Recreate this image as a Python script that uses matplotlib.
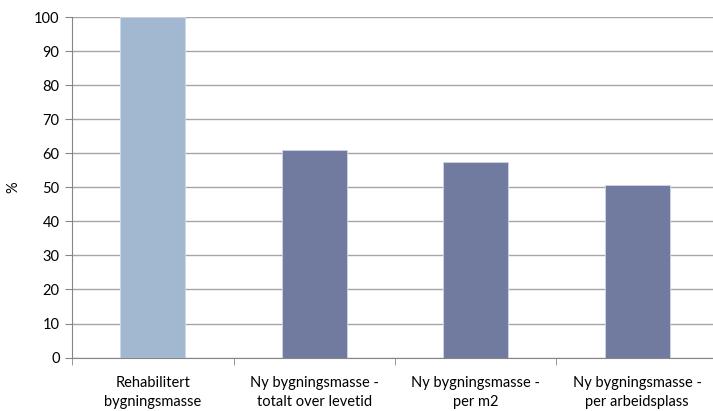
import matplotlib
matplotlib.use("Agg")
import matplotlib.pyplot as plt
import numpy as np

plt.rcParams['font.family'] = ['Lato', 'DejaVu Sans']

# data
kategorier = ["Rehabilitert\nbygningsmasse",
              "Ny bygningsmasse -\ntotalt over levetid",
              "Ny bygningsmasse -\nper m2",
              "Ny bygningsmasse -\nper arbeidsplass"]
verdier = [100, 60.9, 57.5, 50.7]
farger = ["#A2B8D0", "#717BA0", "#717BA0", "#717BA0"]
yticks = list(range(0, 101, 10))

fig = plt.figure(figsize=(7.13, 4.11), dpi=100)
ax = fig.add_axes([0.101, 0.130, 0.906, 0.8285])

x = np.arange(len(kategorier))
ax.bar(x, verdier, width=0.4, color=farger, edgecolor="#D0D6E4", linewidth=0.6, zorder=3)

ax.set_xlim(-0.5, len(kategorier) - 0.5)
ax.set_ylim(0, 100)
ax.set_yticks(yticks)
ax.yaxis.grid(True, color="#A6A6A6", linewidth=1.0, zorder=0)
ax.set_axisbelow(True)

ax.set_xticks(x)
ax.set_xticklabels(kategorier, fontsize=10.5, linespacing=1.5)
ax.tick_params(axis="x", which="major", length=0, pad=13)
ax.set_xticks(np.arange(-0.5, len(kategorier)), minor=True)
ax.tick_params(axis="x", which="minor", length=5, color="#868686", direction="out")
ax.tick_params(axis="y", length=5, color="#868686", labelsize=10.5, pad=4)

for s in ["top", "right"]:
    ax.spines[s].set_visible(False)
for s in ["left", "bottom"]:
    ax.spines[s].set_color("#868686")

ax.set_ylabel("%", fontsize=10.5, labelpad=10)

fig.savefig("out.png", dpi=100)
